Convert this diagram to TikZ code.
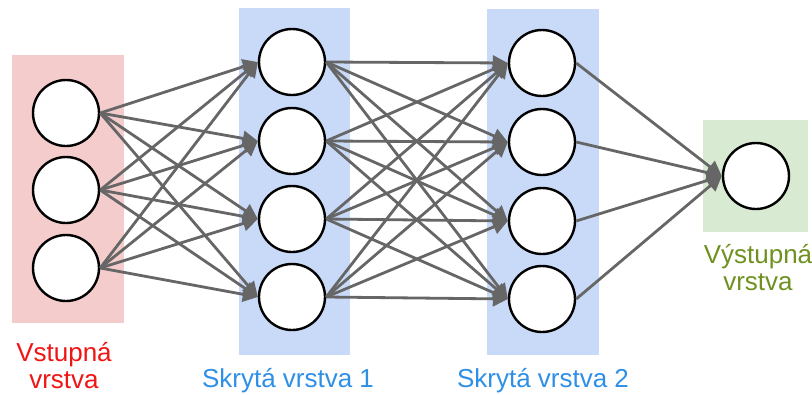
\documentclass[tikz,border=0pt]{standalone}
\usepackage{fontspec}
\setmainfont{Liberation Sans}
\usetikzlibrary{arrows.meta}
\definecolor{inpink}{HTML}{F4CCCC}
\definecolor{hidblue}{HTML}{C9DAF8}
\definecolor{outgreen}{HTML}{D9EAD3}
\definecolor{arrgray}{HTML}{666666}
\definecolor{txtred}{HTML}{F01414}
\definecolor{txtblue}{HTML}{2E8FE6}
\definecolor{txtgreen}{HTML}{6E9120}
\tikzset{
  neuron/.style={circle, draw=black, line width=2.4pt, fill=white, minimum size=66pt, inner sep=0pt},
  conn/.style={draw=arrgray, line width=2.8pt, -{Triangle[length=15pt,width=15pt]}},
  lbl/.style={font=\fontsize{26}{27}\selectfont, align=center, inner sep=0pt, anchor=base}
}
\begin{document}
\begin{tikzpicture}[x=1pt,y=-1pt]
\useasboundingbox (0,0) rectangle (812,394);
% layer backgrounds
\fill[inpink] (12,55) rectangle (124,323);
\fill[hidblue] (239,8) rectangle (350,355);
\fill[hidblue] (487,9) rectangle (599,355);
\fill[outgreen] (703,120) rectangle (808,232);
% neurons
\node[neuron] (i1) at (66,113) {};
\node[neuron] (i2) at (66,190) {};
\node[neuron] (i3) at (66,268) {};
\node[neuron] (a1) at (292,62) {};
\node[neuron] (a2) at (292,141) {};
\node[neuron] (a3) at (292,219) {};
\node[neuron] (a4) at (292,297) {};
\node[neuron] (b1) at (542,63) {};
\node[neuron] (b2) at (542,142) {};
\node[neuron] (b3) at (542,221) {};
\node[neuron] (b4) at (542,299) {};
\node[neuron] (o1) at (756,176) {};
% connections
\foreach \s in {i1,i2,i3}
  \foreach \t in {a1,a2,a3,a4}
    \draw[conn] (\s.east) -- (\t.west);
\foreach \s in {a1,a2,a3,a4}
  \foreach \t in {b1,b2,b3,b4}
    \draw[conn] (\s.east) -- (\t.west);
\foreach \s in {b1,b2,b3,b4}
  \draw[conn] (\s.east) -- (o1.west);
% labels
\node[lbl, text=txtred] (lin) at (64,388) {Vstupná\\vrstva};
\node[lbl, text=txtblue] (lh1) at (288,387) {Skrytá vrstva 1};
\node[lbl, text=txtblue] (lh2) at (543,387) {Skrytá vrstva 2};
\node[lbl, text=txtgreen] (lout) at (758,290) {Výstupná\\vrstva};
\end{tikzpicture}
\end{document}
